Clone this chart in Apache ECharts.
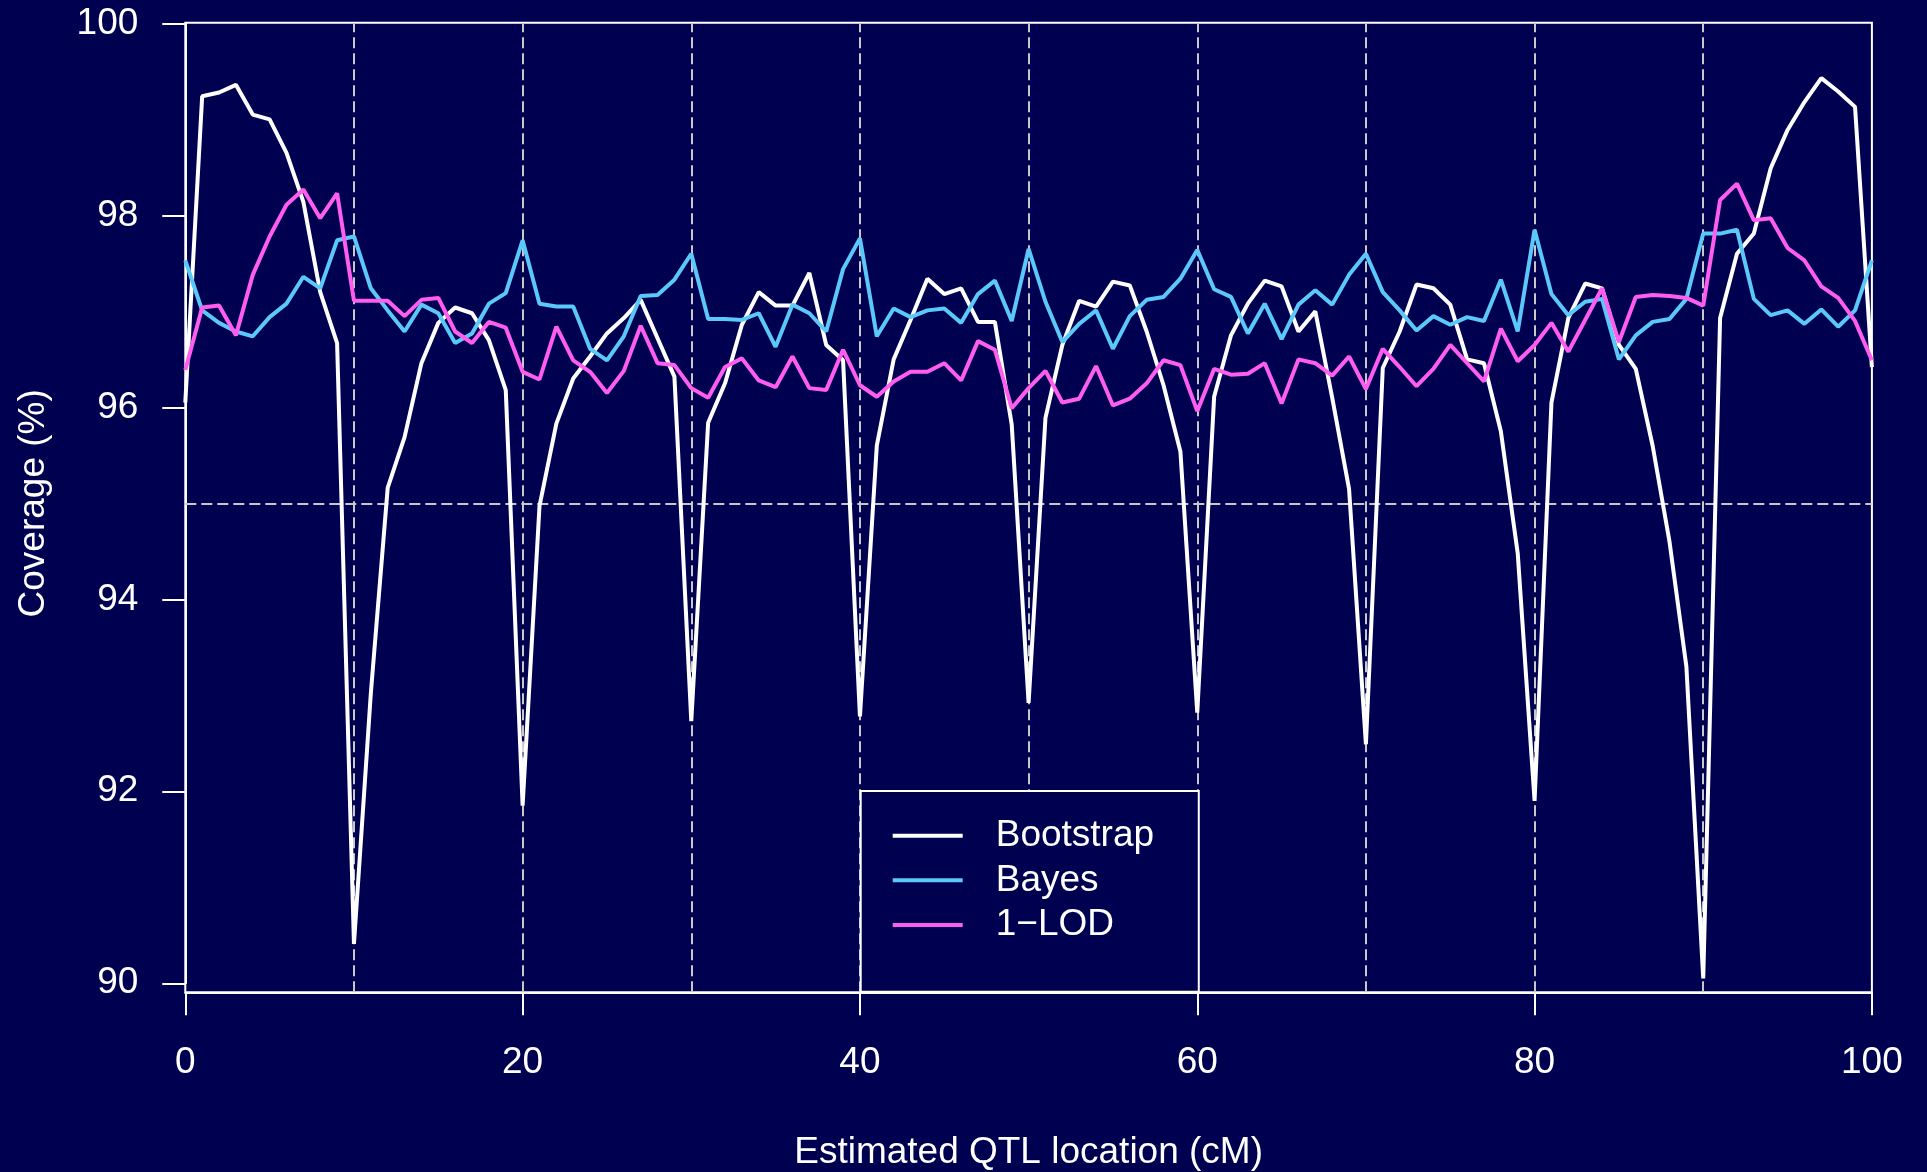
<!DOCTYPE html>
<html>
<head>
<meta charset="utf-8">
<script src="https://cdn.jsdelivr.net/npm/echarts@6/dist/echarts.min.js"></script>
<style>
html,body{margin:0;padding:0;background:#000050;}
#chart{width:1927px;height:1172px;}
</style>
</head>
<body>
<div id="chart"></div>
<script>
// ---- data ----
const seriesNames = ['Bootstrap', 'Bayes', '1\u2212LOD'];
const xTicks = [0, 20, 40, 60, 80, 100];
const yTicks = [90, 92, 94, 96, 98, 100];
const guideX = [10, 20, 30, 40, 50, 60, 70, 80, 90];
const guideY = [95];

const bootstrap = [
  96.05, 99.24, 99.28, 99.36, 99.05, 99.00, 98.65, 98.14, 97.20, 96.67,
  90.41, 93.02, 95.16, 95.69, 96.46, 96.88, 97.04, 96.98, 96.70, 96.18,
  91.85, 94.97, 95.83, 96.30, 96.53, 96.77, 96.93, 97.12, 96.72, 96.32,
  92.73, 95.84, 96.25, 96.86, 97.20, 97.06, 97.06, 97.40, 96.65, 96.49,
  92.78, 95.60, 96.50, 96.91, 97.34, 97.18, 97.24, 96.89, 96.89, 95.82,
  92.92, 95.89, 96.65, 97.11, 97.05, 97.31, 97.27, 96.79, 96.23, 95.54,
  92.82, 96.11, 96.75, 97.08, 97.32, 97.26, 96.79, 97.00, 96.10, 95.15,
  92.49, 96.41, 96.79, 97.28, 97.24, 97.07, 96.50, 96.46, 95.75, 94.48,
  91.90, 96.05, 96.93, 97.29, 97.24, 96.65, 96.40, 95.60, 94.60, 93.30,
  90.05, 96.93, 97.60, 97.81, 98.49, 98.89, 99.18, 99.43, 99.29, 99.13,
  96.42
];
const bayes = [
  97.53, 97.01, 96.88, 96.79, 96.74, 96.94, 97.08, 97.36, 97.24, 97.74,
  97.78, 97.24, 97.01, 96.79, 97.07, 96.98, 96.67, 96.77, 97.08, 97.19,
  97.74, 97.08, 97.05, 97.05, 96.61, 96.49, 96.74, 97.16, 97.17, 97.33,
  97.60, 96.92, 96.92, 96.91, 96.98, 96.63, 97.07, 96.98, 96.79, 97.44,
  97.76, 96.74, 97.03, 96.94, 97.01, 97.03, 96.88, 97.18, 97.32, 96.90,
  97.65, 97.10, 96.68, 96.87, 97.01, 96.61, 96.95, 97.12, 97.15, 97.34,
  97.64, 97.23, 97.15, 96.77, 97.08, 96.71, 97.07, 97.22, 97.07, 97.38,
  97.60, 97.20, 97.01, 96.80, 96.95, 96.86, 96.94, 96.90, 97.33, 96.79,
  97.85, 97.18, 96.96, 97.10, 97.13, 96.50, 96.75, 96.89, 96.92, 97.13,
  97.81, 97.81, 97.85, 97.13, 96.96, 97.01, 96.87, 97.02, 96.84, 97.01,
  97.53
];
const lod = [
  96.39, 97.04, 97.06, 96.75, 97.38, 97.78, 98.11, 98.27, 97.97, 98.23,
  97.11, 97.11, 97.11, 96.95, 97.12, 97.14, 96.79, 96.67, 96.89, 96.83,
  96.37, 96.29, 96.84, 96.49, 96.37, 96.15, 96.38, 96.85, 96.46, 96.44,
  96.20, 96.10, 96.42, 96.51, 96.28, 96.21, 96.53, 96.20, 96.18, 96.60,
  96.23, 96.11, 96.27, 96.37, 96.37, 96.46, 96.28, 96.69, 96.60, 95.99,
  96.20, 96.38, 96.05, 96.09, 96.43, 96.02, 96.09, 96.25, 96.49, 96.44,
  95.96, 96.40, 96.34, 96.35, 96.46, 96.04, 96.50, 96.46, 96.33, 96.53,
  96.19, 96.61, 96.42, 96.22, 96.40, 96.65, 96.46, 96.27, 96.82, 96.48,
  96.65, 96.88, 96.58, 96.91, 97.24, 96.68, 97.15, 97.17, 97.16, 97.14,
  97.06, 98.16, 98.33, 97.95, 97.97, 97.66, 97.53, 97.26, 97.14, 96.90,
  96.49
];
// QTL positions 0..100 cM (one per value)
const positions = bootstrap.map((_, i) => i);

// ---- layout / style ----
const FONT = "'Liberation Sans', Arial, Helvetica, sans-serif";
const FS = 37;
const BG = '#000050';
const FG = '#ffffff';
const COLORS = ['#ffffff', '#5bc8fa', '#ff5cf0'];
const LW = 4;
const box = { left: 185.3, right: 1871.9, top: 22.7, bottom: 992.3 };
const boxYMin = 89.906, boxYMax = 100.007;
const pxPerUnit = (box.bottom - box.top) / (boxYMax - boxYMin);
const tickTop = box.top + (boxYMax - yTicks[yTicks.length - 1]) * pxPerUnit;
const tickBottom = box.bottom - (yTicks[0] - boxYMin) * pxPerUnit;

const pairs = arr => arr.map((v, i) => [positions[i], v]);

const chart = echarts.init(document.getElementById('chart'), null, { renderer: 'canvas' });
chart.setOption({
  backgroundColor: BG,
  animation: false,
  textStyle: { fontFamily: FONT, color: FG },
  grid: [
    { left: box.left, width: box.right - box.left, top: box.top, height: box.bottom - box.top,
      outerBoundsMode: 'none', containLabel: false,
      show: true, borderColor: FG, borderWidth: 2, backgroundColor: 'transparent' },
    { left: box.left, width: box.right - box.left, top: tickTop, height: tickBottom - tickTop,
      outerBoundsMode: 'none', containLabel: false }
  ],
  xAxis: [
    { gridIndex: 0, type: 'value', min: 0, max: 100, interval: 20,
      axisLine: { show: true, lineStyle: { color: FG, width: 2 } },
      axisTick: { show: true, length: 23, inside: false, lineStyle: { color: FG, width: 2 } },
      axisLabel: { color: FG, fontSize: FS, fontFamily: FONT, margin: 52,
        formatter: v => xTicks.includes(v) ? String(v) : '' },
      splitLine: { show: false },
      name: 'Estimated QTL location (cM)', nameLocation: 'middle', nameGap: 142,
      nameTextStyle: { color: FG, fontSize: FS, fontFamily: FONT } },
    { gridIndex: 1, type: 'value', min: 0, max: 100, show: false }
  ],
  yAxis: [
    { gridIndex: 0, type: 'value', min: boxYMin, max: boxYMax, show: false },
    { gridIndex: 1, type: 'value', min: yTicks[0], max: yTicks[yTicks.length - 1], interval: 2,
      axisLine: { show: true, lineStyle: { color: FG, width: 2 } },
      axisTick: { show: true, length: 23, inside: false, lineStyle: { color: FG, width: 2 } },
      axisLabel: { color: FG, fontSize: FS, fontFamily: FONT, margin: 47 },
      splitLine: { show: false },
      name: 'Coverage (%)', nameLocation: 'middle', nameGap: 133.5,
      nameTextStyle: { color: FG, fontSize: FS, fontFamily: FONT } }
  ],
  legend: {
    orient: 'vertical', left: 860.7, top: 791, z: 20,
    data: seriesNames,
    icon: 'rect',
    itemWidth: 70, itemHeight: LW, itemGap: 0.6,
    padding: [22.7, 44.7, 44.8, 32],
    backgroundColor: BG, borderColor: FG, borderWidth: 2, borderRadius: 0,
    textStyle: { color: FG, fontSize: FS, fontFamily: FONT, lineHeight: 36, padding: [8, 0, 0, 28] }
  },
  series: [
    { name: seriesNames[0], type: 'line', xAxisIndex: 0, yAxisIndex: 0, data: pairs(bootstrap),
      symbol: 'none', showSymbol: false, z: 3,
      lineStyle: { color: COLORS[0], width: LW }, itemStyle: { color: COLORS[0] },
      markLine: { silent: true, symbol: 'none', z: 1, animation: false,
        label: { show: false },
        lineStyle: { color: '#c8c8c8', type: [11, 5], width: 2 },
        emphasis: { disabled: true },
        data: guideX.map(v => ({ xAxis: v })).concat(guideY.map(v => ({ yAxis: v }))) } },
    { name: seriesNames[1], type: 'line', xAxisIndex: 0, yAxisIndex: 0, data: pairs(bayes),
      symbol: 'none', showSymbol: false, z: 4,
      lineStyle: { color: COLORS[1], width: LW }, itemStyle: { color: COLORS[1] } },
    { name: seriesNames[2], type: 'line', xAxisIndex: 0, yAxisIndex: 0, data: pairs(lod),
      symbol: 'none', showSymbol: false, z: 5,
      lineStyle: { color: COLORS[2], width: LW }, itemStyle: { color: COLORS[2] } }
  ]
});
</script>
</body>
</html>
